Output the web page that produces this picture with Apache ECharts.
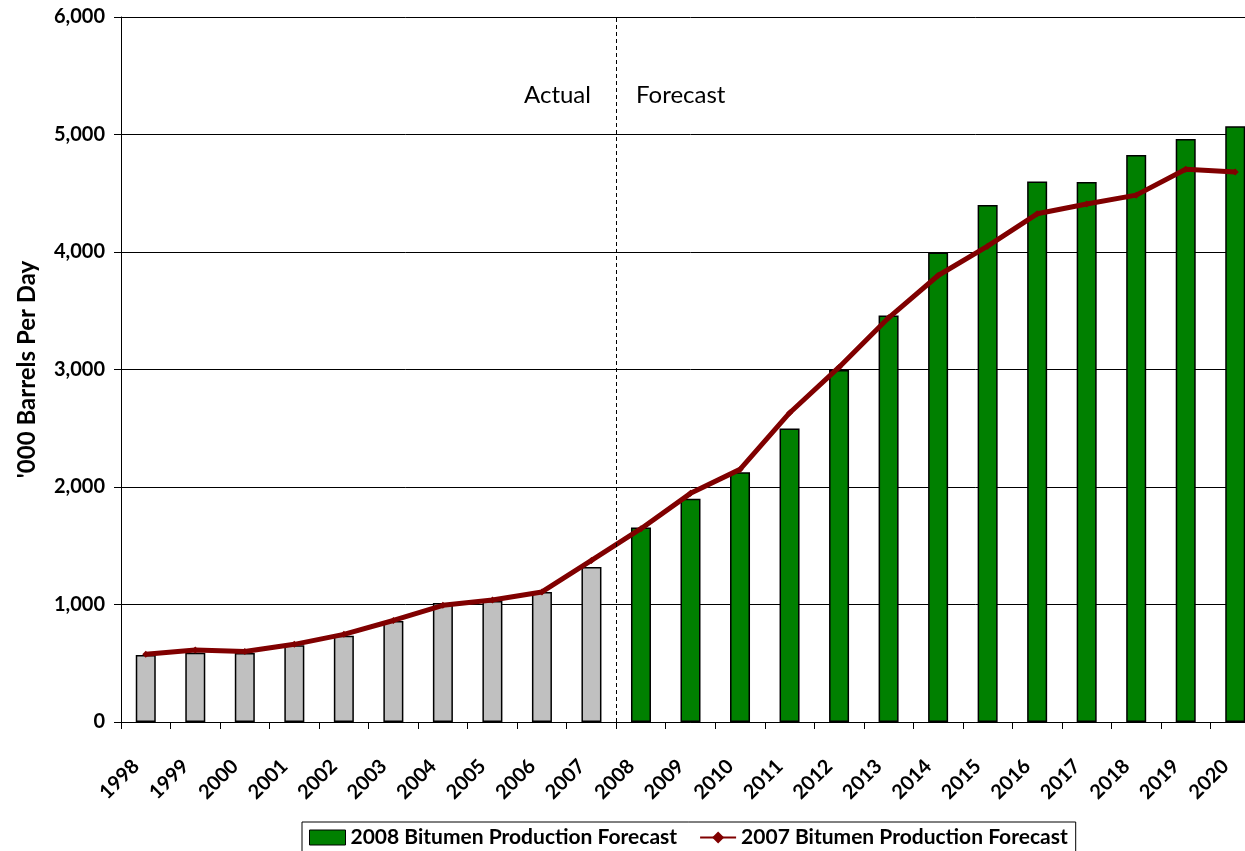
<!DOCTYPE html>
<html>
<head>
<meta charset="utf-8">
<script src="https://cdn.jsdelivr.net/npm/echarts@6/dist/echarts.min.js"></script>
<style>
html,body{margin:0;padding:0;background:#fff;overflow:hidden;width:1245px;height:851px;}
#chart{width:1260px;height:851px;}
</style>
</head>
<body>
<div id="chart"></div>
<script>
const years = ['1998','1999','2000','2001','2002','2003','2004','2005','2006','2007','2008','2009','2010','2011','2012','2013','2014','2015','2016','2017','2018','2019','2020'];
const production2008 = [570,590,587,653,735,859,1012,1030,1107,1320,1656,1899,2125,2497,2995,3460,3995,4400,4600,4595,4825,4962,5070];
const forecast2007 = [577,613,600,661,746,864,993,1039,1107,1375,1645,1946,2150,2630,3020,3440,3800,4050,4325,4408,4484,4704,4681];
const actualCount = 10;
const yTicks = {min:0, max:6000, interval:1000};

const FONT = 'Lato, "Open Sans", sans-serif';
const chart = echarts.init(document.getElementById('chart'));

const barData = production2008.map((v,i)=>({
  value: v,
  itemStyle: { color: i < actualCount ? '#c0c0c0' : '#008000' }
}));

chart.setOption({
  animation: false,
  backgroundColor: '#ffffff',
  grid: { left: 121, right: 0, top: 17, height: 705, containLabel: false },
  xAxis: [{
    type: 'category',
    data: years,
    boundaryGap: true,
    axisLine: { show: true, lineStyle: { color: '#000', width: 1 } },
    axisTick: { show: true, alignWithLabel: false, length: 7, lineStyle: { color: '#000' } },
    axisLabel: { rotate: 45, color: '#000', fontWeight: 'bold', fontSize: 20, fontFamily: FONT, margin: 31, padding: [0, 14, 0, 0], interval: 0 },
    splitLine: { show: false }
  }, {
    type: 'value',
    min: 0, max: 23,
    show: false
  }],
  yAxis: [{
    type: 'value',
    min: yTicks.min, max: yTicks.max, interval: yTicks.interval,
    name: "'000 Barrels Per Day",
    nameLocation: 'middle',
    nameGap: 82,
    nameTextStyle: { color: '#000', fontWeight: 'bold', fontSize: 24, fontFamily: FONT },
    axisLine: { show: true, lineStyle: { color: '#000', width: 1 } },
    axisTick: { show: true, length: 7, lineStyle: { color: '#000' } },
    axisLabel: {
      color: '#000', fontWeight: 'bold', fontSize: 20, fontFamily: FONT, margin: 16,
      formatter: v => v.toLocaleString('en-US')
    },
    splitLine: { show: true, lineStyle: { color: '#000', width: 1 } }
  }],
  legend: {
    top: 822,
    left: 302,
    itemGap: 22,
    itemWidth: 36,
    itemHeight: 15,
    padding: [5, 8, 10, 7],
    borderColor: '#000',
    borderWidth: 1,
    textStyle: { color: '#000', fontWeight: 'bold', fontSize: 21, fontFamily: FONT },
    data: [
      { name: '2008 Bitumen Production Forecast', icon: 'rect', itemStyle: { color: '#008000', borderColor: '#000', borderWidth: 1 } },
      { name: '2007 Bitumen Production Forecast' }
    ]
  },
  series: [{
    name: '2008 Bitumen Production Forecast',
    type: 'bar',
    data: barData,
    barWidth: 20,
    itemStyle: { color: '#008000', borderColor: '#000', borderWidth: 1.5 },
    z: 2
  }, {
    name: '2007 Bitumen Production Forecast',
    type: 'line',
    data: forecast2007,
    symbol: 'diamond',
    symbolSize: 7,
    lineStyle: { color: '#800000', width: 5 },
    itemStyle: { color: '#800000' },
    z: 3
  }, {
    type: 'line',
    xAxisIndex: 1,
    data: [],
    silent: true,
    markLine: {
      silent: true,
      symbol: ['none','none'],
      label: { show: false },
      lineStyle: { color: '#000', type: [4, 3], width: 1 },
      data: [{ xAxis: actualCount }]
    }
  }],
  graphic: [
    { type: 'text', left: 524, top: 83, style: { text: 'Actual', fill: '#000', font: '24px ' + FONT } },
    { type: 'text', left: 636, top: 83, style: { text: 'Forecast', fill: '#000', font: '24px ' + FONT } }
  ]
});
</script>
</body>
</html>
